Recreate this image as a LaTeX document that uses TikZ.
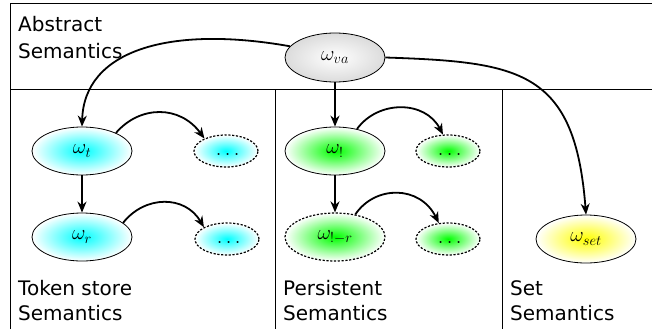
\documentclass[tikz,border=0pt]{standalone}
\usepackage[no-math]{fontspec}
\setmainfont{DejaVu Sans}
\usetikzlibrary{shapes.geometric,arrows.meta}

\tikzset{
  state/.style={ellipse, draw, line width=0.8pt, inner sep=0pt,
    minimum width=100pt, minimum height=48pt,
    font=\fontsize{21}{25}\selectfont},
  more/.style={ellipse, draw, line width=1.2pt, dash pattern=on 2.2pt off 1.6pt,
    inner sep=0pt, minimum width=64pt, minimum height=32pt,
    font=\fontsize{21}{25}\selectfont},
  tokenfill/.style={inner color=cyan, outer color=white},
  persfill/.style={inner color=green, outer color=white},
  setfill/.style={inner color=yellow, outer color=white},
  absfill/.style={inner color=white, outer color=gray!28},
  link/.style={line width=1.8pt, -{Stealth[length=11pt,width=9pt,inset=3.5pt]}},
  frame/.style={line width=1pt},
  title/.style={anchor=base west, inner sep=0pt, font=\fontsize{20}{25}\selectfont}
}
\newcommand{\moredots}{$\vphantom{x}\ldots$}

\begin{document}
\begin{tikzpicture}[x=1pt,y=-1pt]
  \useasboundingbox (0,0) rectangle (652,329);

  % frame and section dividers
  \draw[frame] (10,329) -- (10,4) -- (652,4);
  \draw[frame] (10,89) -- (652,89);
  \draw[frame] (275,89) -- (275,329);
  \draw[frame] (502,89) -- (502,329);

  % section titles
  \node[title] (absA) at (18,31) {Abstract};
  \node[title] (absB) at (18,58) {Semantics};
  \node[title] (tokA) at (18,295) {Token store};
  \node[title] (tokB) at (18,320) {Semantics};
  \node[title] (perA) at (283,295) {Persistent};
  \node[title] (perB) at (283,320) {Semantics};
  \node[title] (setA) at (510,295) {Set};
  \node[title] (setB) at (510,320) {Semantics};

  % semantics nodes
  \node[state, shade, absfill, minimum height=49pt] (wva) at (335,57.5) {$\omega_{va}$};

  \node[state, shade, tokenfill] (wt) at (82,151) {$\omega_t$};
  \node[state, shade, tokenfill] (wr) at (82,237) {$\omega_r$};
  \node[more, shade, tokenfill] (dt) at (226,151) {\moredots};
  \node[more, shade, tokenfill] (dr) at (227,239) {\moredots};

  \node[state, shade, persfill] (wp) at (335,151) {$\omega_!$};
  \node[state, shade, persfill, line width=1.2pt, dash pattern=on 2.2pt off 1.6pt] (wpr) at (335,237) {$\omega_{!-r}$};
  \node[more, shade, persfill] (dp) at (448,151) {\moredots};
  \node[more, shade, persfill] (dpr) at (448,239) {\moredots};

  \node[state, shade, setfill] (wset) at (586,239) {$\omega_{set}$};

  % connectors
  \draw[link] (wva.166) .. controls (170,25) and (84,50) .. (wt.north);
  \draw[link] (wva.east) .. controls (520,62) and (575,70) .. (wset.north);
  \draw[link] (wva) -- (wp);
  \draw[link] (wt) -- (wr);
  \draw[link] (wp) -- (wpr);
  \draw[link] (wt.28) .. controls (140,105) and (180,105) .. (dt.150);
  \draw[link] (wr.19) .. controls (145,195) and (185,195) .. (dr.153);
  \draw[link] (wp.45) .. controls (378,100) and (425,100) .. (dp.107);
  \draw[link] (wpr.48) .. controls (375,185) and (420,185) .. (dpr.120);
\end{tikzpicture}
\end{document}
